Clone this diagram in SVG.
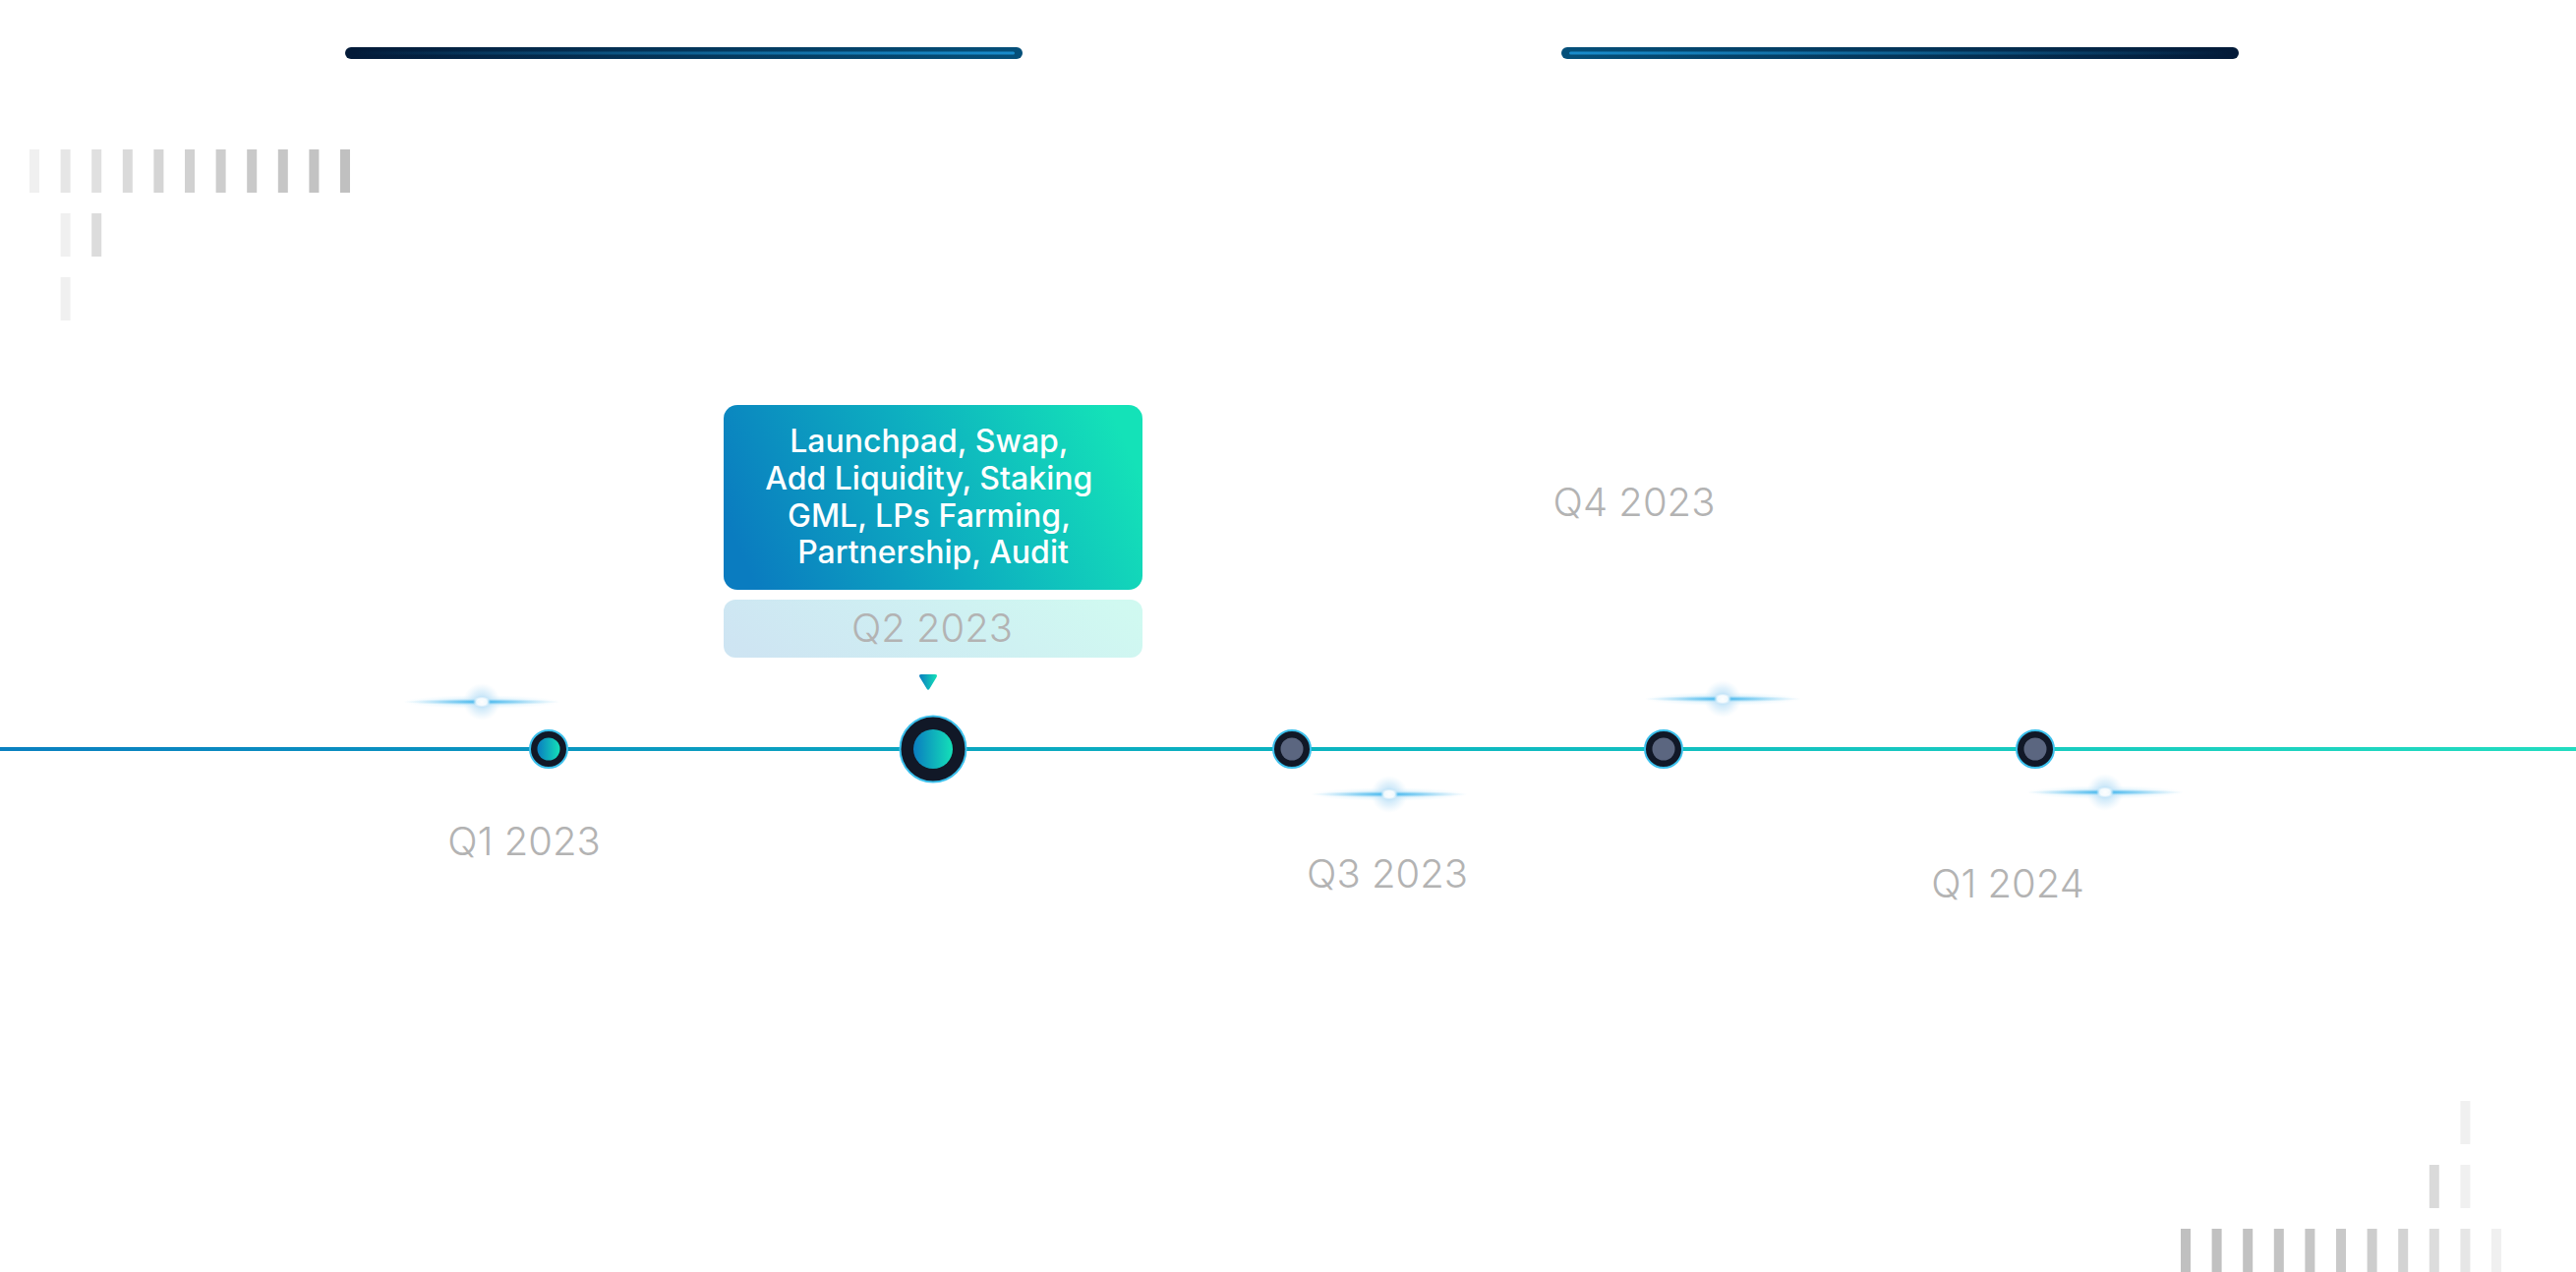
<svg xmlns="http://www.w3.org/2000/svg" width="2620" height="1294" viewBox="0 0 2620 1294">
  <defs>
    <linearGradient id="lineGrad" x1="0" y1="0" x2="2620" y2="0" gradientUnits="userSpaceOnUse">
      <stop offset="0" stop-color="#0a80c0"/>
      <stop offset="0.5" stop-color="#0bb3c0"/>
      <stop offset="1" stop-color="#22dcc0"/>
    </linearGradient>
    <linearGradient id="brand" x1="0" y1="0" x2="1" y2="0">
      <stop offset="0" stop-color="#0a7dc0"/>
      <stop offset="1" stop-color="#14e0b8"/>
    </linearGradient>
    <linearGradient id="cardGrad" x1="0" y1="0.6" x2="1" y2="0.4">
      <stop offset="0" stop-color="#0a7cc0"/>
      <stop offset="0.5" stop-color="#0daec0"/>
      <stop offset="1" stop-color="#14e2b8"/>
    </linearGradient>
    <linearGradient id="barL" x1="0" y1="0" x2="1" y2="0">
      <stop offset="0" stop-color="#031a38"/>
      <stop offset="1" stop-color="#05507a"/>
    </linearGradient>
    <linearGradient id="barR" x1="0" y1="0" x2="1" y2="0">
      <stop offset="0" stop-color="#05507a"/>
      <stop offset="1" stop-color="#031a38"/>
    </linearGradient>
    <linearGradient id="hiL" x1="0" y1="0" x2="1" y2="0">
      <stop offset="0" stop-color="#1a8fd0" stop-opacity="0"/>
      <stop offset="1" stop-color="#1a8fd0" stop-opacity="0.95"/>
    </linearGradient>
    <linearGradient id="hiR" x1="0" y1="0" x2="1" y2="0">
      <stop offset="0" stop-color="#1a8fd0" stop-opacity="0.95"/>
      <stop offset="1" stop-color="#1a8fd0" stop-opacity="0"/>
    </linearGradient>
    <radialGradient id="streak">
      <stop offset="0" stop-color="#38b2ec" stop-opacity="1"/>
      <stop offset="0.45" stop-color="#5cc0ef" stop-opacity="0.6"/>
      <stop offset="1" stop-color="#9fd8f5" stop-opacity="0"/>
    </radialGradient>
    <radialGradient id="glow">
      <stop offset="0" stop-color="#a6d6f4" stop-opacity="0.95"/>
      <stop offset="0.6" stop-color="#c4e4f8" stop-opacity="0.5"/>
      <stop offset="1" stop-color="#d6ecf9" stop-opacity="0"/>
    </radialGradient>
    <radialGradient id="core">
      <stop offset="0" stop-color="#ffffff" stop-opacity="1"/>
      <stop offset="0.6" stop-color="#ffffff" stop-opacity="0.9"/>
      <stop offset="1" stop-color="#ffffff" stop-opacity="0"/>
    </radialGradient>
    <g id="sparkle">
      <ellipse cx="0" cy="0" rx="80" ry="7" fill="url(#streak)" opacity="0.3"/>
      <circle cx="0" cy="0" r="19" fill="url(#glow)"/>
      <ellipse cx="0" cy="0" rx="80" ry="3.2" fill="url(#streak)"/>
      <ellipse cx="0" cy="0" rx="9" ry="5.5" fill="url(#core)"/>
    </g>
  </defs>
  <style>
    .lbl { font-family: Inter, "Liberation Sans", sans-serif; font-size: 40px; font-weight: 300; fill: #b3b3b3; text-anchor: middle; }
    .card { font-family: Inter, "Liberation Sans", sans-serif; font-size: 32px; font-weight: 500; fill: #ffffff; text-anchor: middle; }
    .ring { fill: #111827; stroke: #3cc0ec; stroke-width: 2; }
    .dim { fill: #5b6680; }
  </style>

  <rect width="2620" height="1294" fill="#ffffff"/>

  <!-- top bars -->
  <g id="top-bar-left">
    <rect x="351" y="48" width="689" height="12" rx="6" fill="url(#barL)"/>
    <rect x="360" y="52.5" width="672" height="3" rx="1.5" fill="url(#hiL)"/>
  </g>
  <g id="top-bar-right">
    <rect x="1588" y="48" width="689" height="12" rx="6" fill="url(#barR)"/>
    <rect x="1596" y="52.5" width="672" height="3" rx="1.5" fill="url(#hiR)"/>
  </g>

  <!-- decorative stripes top-left -->
  <g id="stripes-top-left">
    <rect x="30" y="152" width="10" height="44" fill="#f0f0f0"/>
    <rect x="61.6" y="152" width="10" height="44" fill="#e6e6e6"/>
    <rect x="93.2" y="152" width="10" height="44" fill="#e0e0e0"/>
    <rect x="124.8" y="152" width="10" height="44" fill="#dadada"/>
    <rect x="156.4" y="152" width="10" height="44" fill="#d5d5d5"/>
    <rect x="188" y="152" width="10" height="44" fill="#d1d1d1"/>
    <rect x="219.6" y="152" width="10" height="44" fill="#cdcdcd"/>
    <rect x="251.2" y="152" width="10" height="44" fill="#c9c9c9"/>
    <rect x="282.8" y="152" width="10" height="44" fill="#c6c6c6"/>
    <rect x="314.4" y="152" width="10" height="44" fill="#c3c3c3"/>
    <rect x="346" y="152" width="10" height="44" fill="#c0c0c0"/>
    <rect x="61.6" y="217" width="10" height="44" fill="#f0f0f0"/>
    <rect x="93.2" y="217" width="10" height="44" fill="#dcdcdc"/>
    <rect x="61.6" y="282" width="10" height="44" fill="#f0f0f0"/>
  </g>

  <!-- decorative stripes bottom-right -->
  <g id="stripes-bottom-right">
    <rect x="2218" y="1250" width="10" height="44" fill="#c0c0c0"/>
    <rect x="2249.6" y="1250" width="10" height="44" fill="#c1c1c1"/>
    <rect x="2281.2" y="1250" width="10" height="44" fill="#c2c2c2"/>
    <rect x="2312.8" y="1250" width="10" height="44" fill="#c4c4c4"/>
    <rect x="2344.4" y="1250" width="10" height="44" fill="#c6c6c6"/>
    <rect x="2376" y="1250" width="10" height="44" fill="#c9c9c9"/>
    <rect x="2407.6" y="1250" width="10" height="44" fill="#cdcdcd"/>
    <rect x="2439.2" y="1250" width="10" height="44" fill="#d3d3d3"/>
    <rect x="2470.8" y="1250" width="10" height="44" fill="#dcdcdc"/>
    <rect x="2502.4" y="1250" width="10" height="44" fill="#e6e6e6"/>
    <rect x="2534" y="1250" width="10" height="44" fill="#f0f0f0"/>
    <rect x="2470.8" y="1185" width="10" height="44" fill="#dadada"/>
    <rect x="2502.4" y="1185" width="10" height="44" fill="#f0f0f0"/>
    <rect x="2502.4" y="1120" width="10" height="44" fill="#f0f0f0"/>
  </g>

  <!-- connectors -->
  <g id="connectors">
    <rect x="0" y="760" width="2620" height="4" fill="url(#lineGrad)"/>
  </g>

  <!-- sparkles -->
  <g id="sparkles">
    <use href="#sparkle" x="490" y="714"/>
    <use href="#sparkle" x="1413" y="808"/>
    <use href="#sparkle" x="1752" y="711"/>
    <use href="#sparkle" x="2141" y="806"/>
  </g>

  <!-- nodes -->
  <g id="node-q1-2023">
    <circle cx="558" cy="762" r="19" class="ring"/>
    <circle cx="558" cy="762" r="11.5" fill="url(#brand)"/>
    <text x="533" y="870" class="lbl">Q1 2023</text>
  </g>

  <g id="node-q2-2023">
    <rect x="736" y="412" width="426" height="188" rx="14" fill="url(#cardGrad)"/>
    <text class="card">
      <tspan x="949" y="460">Launchpad, Swap,</tspan>
      <tspan x="949" y="498">Add Liquidity, Staking</tspan>
      <tspan x="949" y="536">GML, LPs Farming,</tspan>
      <tspan x="949" y="573">Partnership, Audit</tspan>
    </text>
    <rect x="736" y="610" width="426" height="59" rx="12" fill="url(#cardGrad)" opacity="0.2"/>
    <text x="948" y="653" class="lbl">Q2 2023</text>
    <path d="M937,686 L951,686 Q954,686 952.5,689 L945.5,700.5 Q944,703 942.5,700.5 L935.5,689 Q934,686 937,686 Z" fill="url(#brand)"/>
    <circle cx="949" cy="762" r="33.5" class="ring"/>
    <circle cx="949" cy="762" r="20" fill="url(#brand)"/>
  </g>

  <g id="node-q3-2023">
    <circle cx="1314" cy="762" r="19" class="ring"/>
    <circle cx="1314" cy="762" r="11.5" class="dim"/>
    <text x="1411" y="903" class="lbl">Q3 2023</text>
  </g>

  <g id="node-q4-2023">
    <circle cx="1692" cy="762" r="19" class="ring"/>
    <circle cx="1692" cy="762" r="11.5" class="dim"/>
    <text x="1662" y="525" class="lbl">Q4 2023</text>
  </g>

  <g id="node-q1-2024">
    <circle cx="2070" cy="762" r="19" class="ring"/>
    <circle cx="2070" cy="762" r="11.5" class="dim"/>
    <text x="2042" y="913" class="lbl">Q1 2024</text>
  </g>
</svg>
